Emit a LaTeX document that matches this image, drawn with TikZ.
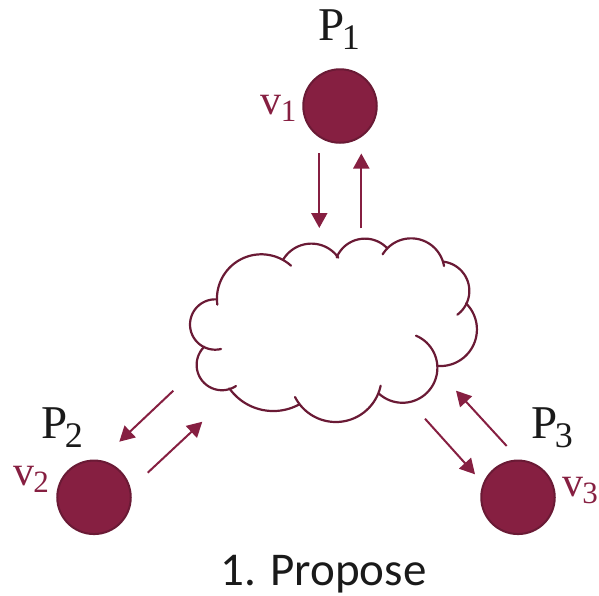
\documentclass[tikz,border=0pt]{standalone}
\usepackage{fontspec}
\setmainfont{Carlito}
\newfontfamily\mathlike{Liberation Serif}
\usetikzlibrary{arrows.meta}
\definecolor{maroon}{HTML}{861F41}
\definecolor{maroondark}{HTML}{6A1A35}
\definecolor{inkblack}{HTML}{1A1A1A}
\newcommand{\procname}[1]{{\mathlike\fontsize{47}{47}\selectfont P\kern-2.5pt\raisebox{-9pt}{\fontsize{36}{36}\selectfont #1}}}
\newcommand{\valname}[1]{{\mathlike\fontsize{42}{42}\selectfont v\kern-1pt\raisebox{-7pt}{\fontsize{31}{31}\selectfont #1}}}
% one circular puff of the cloud through three points (zoom-crop units of the cloud region)
\newcommand{\puffarc}[6]{%
  \pgfmathsetmacro{\sx}{170+#1/3}\pgfmathsetmacro{\sy}{220+#2/3}%
  \pgfmathsetmacro{\ax}{(#3-#1)/300}\pgfmathsetmacro{\ay}{(#4-#2)/300}%
  \pgfmathsetmacro{\bx}{(#5-#1)/300}\pgfmathsetmacro{\by}{(#6-#2)/300}%
  \pgfmathsetmacro{\dd}{2*(\ax*\by-\ay*\bx)}%
  \pgfmathsetmacro{\aa}{\ax*\ax+\ay*\ay}\pgfmathsetmacro{\bb}{\bx*\bx+\by*\by}%
  \pgfmathsetmacro{\ux}{(\by*\aa-\ay*\bb)/\dd}\pgfmathsetmacro{\uy}{(\ax*\bb-\bx*\aa)/\dd}%
  \pgfmathsetmacro{\rr}{100*sqrt(\ux*\ux+\uy*\uy)}%
  \pgfmathsetmacro{\cx}{\sx+100*\ux}\pgfmathsetmacro{\cy}{\sy+100*\uy}%
  \pgfmathsetmacro{\az}{atan2(-\uy,-\ux)}%
  \pgfmathsetmacro{\am}{atan2(\ay-\uy,\ax-\ux)}%
  \pgfmathsetmacro{\ae}{atan2(\by-\uy,\bx-\ux)}%
  \pgfmathsetmacro{\dm}{mod(\am-\az+720,360)}%
  \pgfmathsetmacro{\de}{mod(\ae-\az+720,360)}%
  \pgfmathsetmacro{\af}{\dm<\de?\az+\de:\az+\de-360}%
  \draw[puff] plot[domain=\az:\af,samples=40,smooth] ({\cx+\rr*cos(\x)},{\cy+\rr*sin(\x)});%
}
\tikzset{
  proc/.style={circle,draw=maroondark,fill=maroon,line width=2pt,minimum size=73.5pt,inner sep=0pt},
  plabel/.style={text=inkblack,inner sep=0pt,anchor=center},
  vlabel/.style={text=maroon,inner sep=0pt,anchor=center},
  msg/.style={draw=maroon,line width=2pt,-{Triangle[length=15pt,width=16pt]}},
  puff/.style={draw=maroondark,line width=2.2pt,line cap=round}
}
\begin{document}
\begin{tikzpicture}[x=1pt,y=-1pt]
\useasboundingbox (0,0) rectangle (599,595);
\node[proc] (p1) at (340,106) {};
\node[proc] (p2) at (94,497.3) {};
\node[proc] (p3) at (518,497.3) {};
\node[plabel] (lp1) at (339,30) {\procname{1}};
\node[plabel] (lp2) at (62,428) {\procname{2}};
\node[plabel] (lp3) at (552,428) {\procname{3}};
\node[vlabel] (lv1) at (278.5,108) {\valname{1}};
\node[vlabel] (lv2) at (31,479) {\valname{2}};
\node[vlabel] (lv3) at (580,491) {\valname{3}};
\node[text=inkblack,inner sep=0pt] (cap) at (323.5,574) {\fontsize{47}{47}\selectfont 1. Propose};
% cloud
\puffarc{142}{254}{268}{103}{363}{137}
\puffarc{340}{118}{430}{71}{505}{113}
\puffarc{500}{112}{580}{56}{652}{85}
\puffarc{638}{103}{725}{55}{822}{138}
\puffarc{820}{125}{898}{215}{862}{284}
\puffarc{888}{250}{905}{385}{805}{438}
\puffarc{738}{347}{802}{450}{628}{522}
\puffarc{632}{497}{500}{606}{375}{531}
\puffarc{388}{553}{305}{573}{178}{505}
\puffarc{198}{498}{80}{430}{103}{380}
\puffarc{153}{387}{60}{313}{137}{238}
% message arrow ends
\coordinate (a1s) at (319.3,153.3); \coordinate (a1e) at (319.3,228);
\coordinate (b1s) at (361.3,228.3); \coordinate (b1e) at (361.3,153.5);
\coordinate (a2s) at (173.3,390.7); \coordinate (a2e) at (119.3,441.7);
\coordinate (b2s) at (147.7,472.7); \coordinate (b2e) at (202.3,421.7);
\coordinate (a3s) at (425,418.7);   \coordinate (a3e) at (475,474.3);
\coordinate (b3s) at (506.7,446);   \coordinate (b3e) at (456,390.7);
\draw[msg] (a1s) -- (a1e);
\draw[msg] (b1s) -- (b1e);
\draw[msg] (a2s) -- (a2e);
\draw[msg] (b2s) -- (b2e);
\draw[msg] (a3s) -- (a3e);
\draw[msg] (b3s) -- (b3e);
\end{tikzpicture}
\end{document}
